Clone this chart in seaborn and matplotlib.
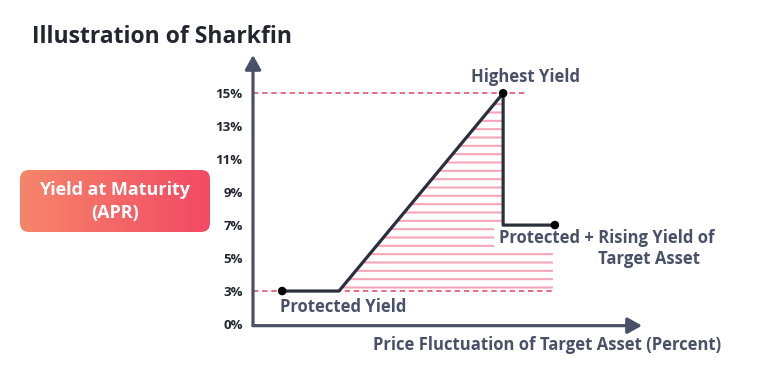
import numpy as np
import matplotlib
matplotlib.use("Agg")
import matplotlib.pyplot as plt
import seaborn as sns
from matplotlib.patches import FancyBboxPatch

# ── data ─────────────────────────────────────────────────────────────────────
yield_ticks = [0, 3, 5, 7, 9, 11, 13, 15]
tick_labels = ["0%", "3%", "5%", "7%", "9%", "11%", "13%", "15%"]

curve_x = [7.5, 22.1, 64.3, 64.3, 77.6]          # price fluctuation (arb. units)
curve_yield = [3, 3, 15, 7, 7]                    # yield at maturity, %
dot_x = [7.5, 64.3, 77.6]
dot_yield = [3, 15, 7]

hatch_x = [22.1, 64.3, 64.3, 77.1]
hatch_top = [3, 15, 7, 7]
protected_yield = 3
highest_yield = 15
guide_15_end = 70.4
guide_3_end = 77.1

# ── style ────────────────────────────────────────────────────────────────────
sns.set_style("white")
plt.rcParams["font.family"] = ["Open Sans", "DejaVu Sans"]
plt.rcParams["hatch.linewidth"] = 1.5

AXIS_C = "#4a5068"
LINE_C = "#2b2e3b"
DASH_C = "#e8506e"
HATCH_C = "#f6a5b8"
TEXT_C = "#4a5068"
DARK_C = "#23262f"

W, H = 773, 380
fig = plt.figure(figsize=(W / 100, H / 100), dpi=100)

# tick index positions: evenly spaced even though the labels are not
tick_pos = np.arange(len(yield_ticks))


def to_pos(v):
    return np.interp(v, yield_ticks, tick_pos)


# chart axes placed in pixel terms: x 0..100 -> px 253..642, y 0 -> px 324
y_top = 8.16
ax = fig.add_axes([253 / W, (H - 324) / H, 389 / W, 269 / H])
ax.set_xlim(0, 100)
ax.set_ylim(0, y_top)
ax.patch.set_alpha(0)
for s in ax.spines.values():
    s.set_visible(False)

# axes with arrow heads
arrow = dict(arrowstyle="-|>,head_length=0.43,head_width=0.24", color=AXIS_C,
             lw=2.3, mutation_scale=20, shrinkA=0, shrinkB=0)
ax.annotate("", xy=(0, y_top), xytext=(0, -0.05), arrowprops=arrow, annotation_clip=False)
ax.annotate("", xy=(100, -0.05), xytext=(0, -0.05), arrowprops=arrow, annotation_clip=False)

# dashed guides
dash = dict(color=DASH_C, lw=1.2, dashes=(3.2, 2.3), zorder=2)
ax.plot([0, guide_15_end], [to_pos(highest_yield)] * 2, **dash)
ax.plot([0, guide_3_end], [to_pos(protected_yield)] * 2, **dash)

# hatched area under the curve
ax.fill_between(hatch_x, to_pos(protected_yield), to_pos(hatch_top),
                facecolor="none", edgecolor=HATCH_C, linewidth=0,
                hatch="--", zorder=1)

# sharkfin payoff
sns.lineplot(x=curve_x, y=to_pos(curve_yield), sort=False, estimator=None,
             color=LINE_C, lw=2.3, ax=ax, zorder=3)
sns.scatterplot(x=dot_x, y=to_pos(dot_yield), color="black", s=38,
                edgecolor="none", ax=ax, zorder=4, clip_on=False)

ax.set_yticks(tick_pos, tick_labels)
ax.set_xticks([])
ax.tick_params(axis="y", length=0, pad=7.5, labelsize=9.5, labelcolor=DARK_C)
for t in ax.get_yticklabels():
    t.set_fontweight("bold")

lab = dict(color=TEXT_C, fontsize=12, fontweight="bold", textcoords="offset points")
ax.annotate("Highest Yield", xy=(64.3, to_pos(15)), xytext=(16, 12),
            ha="center", va="center", **lab)
ax.annotate("Protected Yield", xy=(7.5, to_pos(3)), xytext=(-1.5, -11.5),
            ha="left", va="center", **lab)
ax.annotate("Protected + Rising Yield of", xy=(77.6, to_pos(7)), xytext=(-40, -9.5),
            ha="left", va="center", zorder=2.5,
            bbox=dict(fc="white", ec="none", pad=4), **lab)
ax.annotate("Target Asset", xy=(77.6, to_pos(7)), xytext=(31, -24.5),
            ha="left", va="center", **lab)

ax.set_xlabel("Price Fluctuation of Target Asset (Percent)", color=TEXT_C,
              fontsize=12, fontweight="bold", ha="center", va="center")
ax.xaxis.set_label_coords((547.5 - 253) / 389, -(345 - 324) / 269)

# ── overlay in pixel coordinates: title and gradient badge ──────────────────
bg = fig.add_axes([0, 0, 1, 1], zorder=-1)
bg.set_xlim(0, W)
bg.set_ylim(H, 0)
bg.axis("off")

bg.text(32, 37, "Illustration of Sharkfin", fontsize=16.5, fontweight="bold",
        color=DARK_C, ha="left", va="center")

grad = np.linspace(0, 1, 256)[None, :]
cmap = matplotlib.colors.LinearSegmentedColormap.from_list("badge", ["#f6856a", "#f24a64"])
img = bg.imshow(grad, cmap=cmap, extent=[20, 210, 232, 170], aspect="auto")
box = FancyBboxPatch((20, 170), 190, 62, boxstyle="round,pad=0,rounding_size=9",
                     transform=bg.transData, facecolor="none", edgecolor="none")
bg.add_patch(box)
img.set_clip_path(box)
bg.set_xlim(0, W)
bg.set_ylim(H, 0)
bg.text(115, 190, "Yield at Maturity", color="white", fontsize=13,
        fontweight="bold", ha="center", va="center")
bg.text(115, 213, "(APR)", color="white", fontsize=13,
        fontweight="bold", ha="center", va="center")

fig.savefig("out.png", dpi=100)
